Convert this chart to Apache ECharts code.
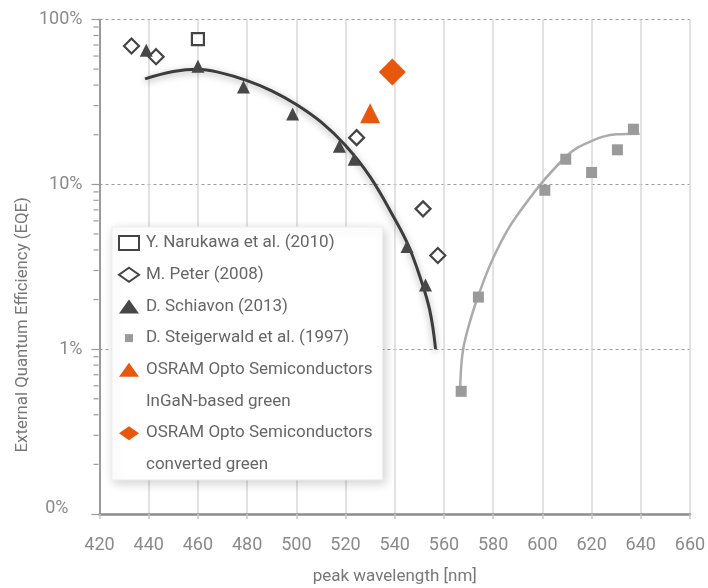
<!DOCTYPE html>
<html>
<head>
<meta charset="utf-8">
<script src="https://cdn.jsdelivr.net/npm/echarts@6/dist/echarts.min.js"></script>
<style>
html,body{margin:0;padding:0;background:#fff;}
#chart{width:708px;height:588px;}
</style>
</head>
<body>
<div id="chart"></div>
<script>
// ---- data ----
var xTicks = [420, 440, 460, 480, 500, 520, 540, 560, 580, 600, 620, 640, 660];
var yTickLabels = { '0.1': '0%', '1': '1%', '10': '10%', '100': '100%' };
var yMinorTicks = [0.2, 0.3, 0.4, 0.5, 0.6, 0.7, 0.8, 0.9, 2, 3, 4, 5, 6, 7, 8, 9, 20, 30, 40, 50, 60, 70, 80, 90];

var narukawaX = [460];
var narukawaY = [76];

var peterX = [433, 443, 524.5, 551.5, 557.5];
var peterY = [69, 59.5, 19.2, 7.1, 3.7];

var schiavonX = [439, 460, 478.5, 498.5, 517.5, 523.5, 545, 552.5];
var schiavonY = [65, 52, 39, 26.7, 17, 14.2, 4.2, 2.45];

var steigerwaldX = [567, 574, 601, 609.5, 620, 630.5, 637];
var steigerwaldY = [0.555, 2.07, 9.2, 14.2, 11.8, 16.2, 21.6];

var osramInGaNX = [530];
var osramInGaNY = [27];

var osramConvX = [539];
var osramConvY = [48];

var fitDarkX = [438.5, 450, 460, 469, 480, 490, 500, 510, 520, 530, 540, 545.4, 550.2, 554.2, 556.6];
var fitDarkY = [43.6, 48.3, 49.9, 47.6, 42.6, 36.9, 30.5, 23.9, 17.2, 11.1, 6.16, 4.3, 2.76, 1.73, 1.0];

var fitLightX = [566.6, 566.9, 567.8, 570.1, 573.8, 580.3, 589.4, 609.5, 619.9, 630, 639.5];
var fitLightY = [0.56, 0.74, 1.0, 1.39, 2.08, 3.65, 6.38, 14.7, 18.3, 20.1, 20.3];

var legendNames = {
  naru: 'Y. Narukawa et al. (2010)',
  peter: 'M. Peter (2008)',
  schiavon: 'D. Schiavon (2013)',
  steiger: 'D. Steigerwald et al. (1997)',
  osram1: 'OSRAM Opto Semiconductors',
  osram1b: 'InGaN-based green',
  osram2: 'OSRAM Opto Semiconductors',
  osram2b: 'converted green'
};

function pairs(xs, ys) { return xs.map(function (x, i) { return [x, ys[i]]; }); }

var FONT = "Roboto, 'Liberation Sans', sans-serif";
var ORANGE = '#e8580c';
var LABEL_COLOR = '#8a8a8a';

var chart = echarts.init(document.getElementById('chart'), null, { renderer: 'canvas' });
chart.setOption({
  animation: false,
  backgroundColor: '#ffffff',
  textStyle: { fontFamily: FONT },
  grid: { left: 99.5, right: 18, top: 19.5, bottom: 74, containLabel: false, outerBoundsMode: 'none' },
  xAxis: {
    type: 'value',
    min: xTicks[0], max: xTicks[xTicks.length - 1], interval: 20,
    name: 'peak wavelength [nm]',
    nameLocation: 'middle', nameGap: 54, nameMoveOverlap: false,
    nameTextStyle: { fontSize: 17, color: '#777', fontFamily: FONT },
    axisLine: { show: true, lineStyle: { color: '#8c8c8c', width: 2.5 } },
    axisTick: { show: true, length: 5, lineStyle: { color: '#c8c8c8', width: 1.5 } },
    axisLabel: { fontSize: 18, color: LABEL_COLOR, margin: 22, fontFamily: FONT },
    splitLine: { show: true, lineStyle: { color: '#d8d8d8', width: 1.5 } }
  },
  yAxis: {
    type: 'log', logBase: 10, min: 0.1, max: 100,
    name: 'External Quantum Efficiency (EQE)',
    nameLocation: 'middle', nameGap: 68, nameRotate: 90, nameMoveOverlap: false,
    nameTextStyle: { fontSize: 16.8, color: '#777', fontFamily: FONT, padding: [0, 116, 0, 0] },
    axisLine: { show: true, lineStyle: { color: '#9a9a9a', width: 2 } },
    axisTick: { show: true, length: 8, lineStyle: { color: '#9a9a9a', width: 1.2 } },
    axisLabel: {
      fontSize: 18, color: LABEL_COLOR, margin: 17, fontFamily: FONT,
      formatter: function (v) {
        var k = String(Math.round(v * 10) / 10);
        var t = yTickLabels[k];
        if (t === undefined) return '';
        return k === '0.1' ? '{z|' + t + '}' : t;
      },
      rich: {
        z: { fontSize: 18, color: LABEL_COLOR, fontFamily: FONT, padding: [0, 14, 12, 0] }
      }
    },
    splitLine: { show: true, lineStyle: { color: '#9a9a9a', width: 1, type: [3, 3] } }
  },
  legend: {
    orient: 'vertical',
    left: 112, top: 227,
    padding: [6, 10, 5, 6],
    itemGap: 11.7,
    itemWidth: 20, itemHeight: 14,
    selectedMode: false,
    backgroundColor: '#ffffff',
    borderColor: '#eeeeee', borderWidth: 1,
    shadowBlur: 10, shadowColor: 'rgba(0,0,0,0.18)', shadowOffsetX: 2, shadowOffsetY: 3,
    textStyle: { fontSize: 17, lineHeight: 20, color: '#666', fontFamily: FONT, padding: [0, 0, 0, 2] },
    formatter: function (name) { return legendNames[name] || name; },
    data: [
      { name: 'naru' },
      { name: 'peter' },
      { name: 'schiavon' },
      { name: 'steiger', icon: 'path://M0,0M3,3h8v8h-8zM14,14' },
      { name: 'osram1' },
      { name: 'osram1b', icon: 'none' },
      { name: 'osram2' },
      { name: 'osram2b', icon: 'none' }
    ]
  },
  series: [
    {
      type: 'line', name: 'fitDark', data: pairs(fitDarkX, fitDarkY),
      smooth: 0.4, showSymbol: false, symbol: 'none', z: 2,
      lineStyle: { color: '#3c3c3c', width: 3, shadowBlur: 7, shadowColor: 'rgba(0,0,0,0.35)', shadowOffsetY: 2 }
    },
    {
      type: 'line', name: 'fitLight', data: pairs(fitLightX, fitLightY),
      smooth: 0.4, showSymbol: false, symbol: 'none', z: 2,
      lineStyle: { color: '#ababab', width: 2.5 }
    },
    {
      type: 'scatter', name: 'naru', data: pairs(narukawaX, narukawaY),
      symbol: 'rect', symbolSize: 12, z: 3,
      itemStyle: { color: '#ffffff', borderColor: '#444', borderWidth: 2.2, opacity: 1 }
    },
    {
      type: 'scatter', name: 'peter', data: pairs(peterX, peterY),
      symbol: 'diamond', symbolSize: 15, z: 3,
      itemStyle: { color: '#ffffff', borderColor: '#444', borderWidth: 2.2, opacity: 1 }
    },
    {
      type: 'scatter', name: 'schiavon', data: pairs(schiavonX, schiavonY),
      symbol: 'triangle', symbolSize: 13, z: 3,
      itemStyle: { color: '#474747', opacity: 1 }
    },
    {
      type: 'scatter', name: 'steiger', data: pairs(steigerwaldX, steigerwaldY),
      symbol: 'rect', symbolSize: 11, z: 3,
      itemStyle: { color: '#9a9a9a', opacity: 1 }
    },
    {
      type: 'scatter', name: 'osram1', data: pairs(osramInGaNX, osramInGaNY),
      symbol: 'triangle', symbolSize: 20, z: 3,
      itemStyle: { color: ORANGE, opacity: 1 }
    },
    { type: 'scatter', name: 'osram1b', data: [], itemStyle: { color: '#fff' } },
    {
      type: 'scatter', name: 'osram2', data: pairs(osramConvX, osramConvY),
      symbol: 'diamond', symbolSize: 27, z: 3,
      itemStyle: { color: ORANGE, opacity: 1 }
    },
    { type: 'scatter', name: 'osram2b', data: [], itemStyle: { color: '#fff' } },
    {
      type: 'scatter', name: 'minorTicks', silent: true, clip: false, z: 4,
      data: yMinorTicks.map(function (v) { return [xTicks[0], v]; }),
      symbol: 'rect', symbolSize: [5, 1.2], symbolOffset: [-3.5, 0],
      itemStyle: { color: '#9a9a9a', opacity: 1 }
    }
  ]
});
</script>
</body>
</html>
